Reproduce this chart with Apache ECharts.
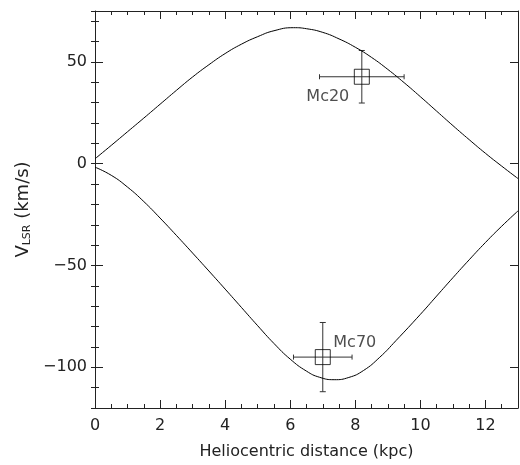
<!DOCTYPE html>
<html>
<head>
<meta charset="utf-8">
<script src="https://cdn.jsdelivr.net/npm/echarts@6/dist/echarts.min.js"></script>
<style>
html,body{margin:0;padding:0;background:#fff;}
#chart{width:520px;height:465px;}
</style>
</head>
<body>
<div id="chart"></div>
<script>
// Upper curve: heliocentric distance (kpc) and V_LSR (km/s)
const upperDist = [0,0.5,1,1.5,2,2.5,3,3.5,4,4.5,5,5.5,6.1,6.5,7,7.5,8,8.5,9,9.5,10,10.5,11,11.5,12,12.5,13];
const upperVel  = [2.4,9.0,15.7,22.4,29.2,36.0,42.6,48.6,54.1,58.7,62.4,65.3,66.8,66.3,64.5,61.3,57.2,52.2,46.3,39.8,32.9,25.8,18.7,11.8,5.1,-1.2,-7.3];
// Lower curve: heliocentric distance (kpc) and V_LSR (km/s)
const lowerDist = [0,0.5,1,1.5,2,2.5,3,3.5,4,4.5,5,5.5,6,6.5,6.9,7.35,7.8,8.25,8.75,9.25,10,10.5,11,11.5,12,12.5,13];
const lowerVel  = [-1.7,-5.7,-11.5,-18.6,-26.7,-35.2,-43.9,-52.7,-61.6,-70.6,-79.6,-88.3,-96.0,-101.9,-104.9,-106.1,-105.0,-101.6,-95.1,-86.9,-74.0,-65.0,-56.0,-47.2,-38.7,-30.7,-23.2];
// Sources
const sourceNames = ['Mc20','Mc70'];
const sourceDist = [8.2, 7.0];
const sourceDistErr = [1.3, 0.9];
const sourceVel = [42.7, -95];
const sourceVelErr = [12.9, 17];
// Tick labels
const yMajorTicks = [-100, -50, 0, 50];

const FONT = 'DejaVu Sans';
const INK = '#222';

const upperData = upperDist.map((d, i) => [d, upperVel[i]]);
const lowerData = lowerDist.map((d, i) => [d, lowerVel[i]]);
const srcData = sourceNames.map((n, i) => ({
  name: n,
  value: [sourceDist[i], sourceVel[i], sourceDistErr[i], sourceVelErr[i]]
}));

const chart = echarts.init(document.getElementById('chart'));

const xBase = {
  type: 'value', min: 0, max: 13, interval: 2,
  axisLine: {show: true, onZero: false, lineStyle: {color: INK, width: 1}},
  axisTick: {show: true, inside: true, length: 8, lineStyle: {color: INK, width: 1}},
  minorTick: {show: true, splitNumber: 4, length: 4, lineStyle: {color: INK, width: 1}},
  splitLine: {show: false}, minorSplitLine: {show: false}
};

const yRange = {type: 'value', min: -120, max: 75, splitLine: {show: false}};

const option = {
  animation: false,
  backgroundColor: '#fff',
  textStyle: {fontFamily: FONT},
  grid: {left: 95, top: 11, right: 2, bottom: 52, containLabel: false},
  xAxis: [
    Object.assign({}, xBase, {
      position: 'bottom',
      axisLabel: {show: true, margin: 10, fontSize: 16, color: INK, fontFamily: FONT, showMaxLabel: false},
      name: 'Heliocentric distance (kpc)', nameLocation: 'middle', nameGap: 36,
      nameTextStyle: {fontSize: 16, color: INK, fontFamily: FONT}
    }),
    Object.assign({}, xBase, {position: 'top', axisLabel: {show: false}})
  ],
  yAxis: [
    Object.assign({}, yRange, {
      position: 'left',
      axisLine: {show: true, onZero: false, lineStyle: {color: INK, width: 1}},
      axisTick: {show: true, inside: true, length: 8, customValues: yMajorTicks, lineStyle: {color: INK}},
      axisLabel: {show: true, margin: 8, fontSize: 16, color: INK, fontFamily: FONT, customValues: yMajorTicks,
        formatter: v => String(v).replace('-', '\u2212')},
      name: '{v|V}{sub|LSR}{v| (km/s)}', nameLocation: 'middle', nameGap: 61, nameRotate: 90,
      nameTextStyle: {
        color: INK, fontFamily: FONT,
        rich: {
          v: {fontSize: 18, lineHeight: 22, verticalAlign: 'bottom', color: INK, fontFamily: FONT},
          sub: {fontSize: 11, lineHeight: 8, verticalAlign: 'bottom', color: INK, fontFamily: FONT}
        }
      }
    }),
    Object.assign({}, yRange, {
      position: 'left', interval: 10,
      axisLine: {show: false},
      axisTick: {show: true, inside: true, length: 4, lineStyle: {color: INK}},
      axisLabel: {show: false}
    }),
    Object.assign({}, yRange, {
      position: 'right',
      axisLine: {show: true, onZero: false, lineStyle: {color: INK, width: 1}},
      axisTick: {show: true, inside: true, length: 8, customValues: yMajorTicks, lineStyle: {color: INK}},
      axisLabel: {show: false}
    }),
    Object.assign({}, yRange, {
      position: 'right', interval: 10,
      axisLine: {show: false},
      axisTick: {show: true, inside: true, length: 4, lineStyle: {color: INK}},
      axisLabel: {show: false}
    })
  ],
  series: [
    {
      type: 'line', data: upperData, smooth: 0.5, symbol: 'none',
      lineStyle: {color: '#000', width: 1}, xAxisIndex: 0, yAxisIndex: 0
    },
    {
      type: 'line', data: lowerData, smooth: 0.5, symbol: 'none',
      lineStyle: {color: '#000', width: 1}, xAxisIndex: 0, yAxisIndex: 0
    },
    {
      type: 'custom', xAxisIndex: 0, yAxisIndex: 0, data: srcData,
      renderItem: function (params, api) {
        const x = api.value(0), y = api.value(1), ex = api.value(2), ey = api.value(3);
        const c = api.coord([x, y]);
        const l = api.coord([x - ex, y]);
        const r = api.coord([x + ex, y]);
        const t = api.coord([x, y + ey]);
        const b = api.coord([x, y - ey]);
        const st = {stroke: '#333', lineWidth: 1};
        const capH = 2.5, capV = 3;
        return {
          type: 'group',
          children: [
            {type: 'line', shape: {x1: l[0], y1: c[1], x2: r[0], y2: c[1]}, style: st},
            {type: 'line', shape: {x1: l[0], y1: c[1] - capH, x2: l[0], y2: c[1] + capH}, style: st},
            {type: 'line', shape: {x1: r[0], y1: c[1] - capH, x2: r[0], y2: c[1] + capH}, style: st},
            {type: 'line', shape: {x1: c[0], y1: t[1], x2: c[0], y2: b[1]}, style: st},
            {type: 'line', shape: {x1: c[0] - capV, y1: t[1], x2: c[0] + capV, y2: t[1]}, style: st},
            {type: 'line', shape: {x1: c[0] - capV, y1: b[1], x2: c[0] + capV, y2: b[1]}, style: st}
          ]
        };
      }
    },
    {
      type: 'scatter', xAxisIndex: 0, yAxisIndex: 0,
      data: srcData.map((d, i) => ({
        name: d.name, value: [d.value[0], d.value[1]],
        label: {offset: i === 0 ? [-34, 20] : [32, -14]}
      })),
      symbol: 'rect', symbolSize: 15,
      itemStyle: {color: 'rgba(0,0,0,0)', borderColor: '#000', borderWidth: 1},
      label: {show: true, position: 'inside', formatter: '{b}', fontSize: 16, color: INK, fontFamily: FONT},
      z: 5
    }
  ]
};
chart.setOption(option);
</script>
</body>
</html>
